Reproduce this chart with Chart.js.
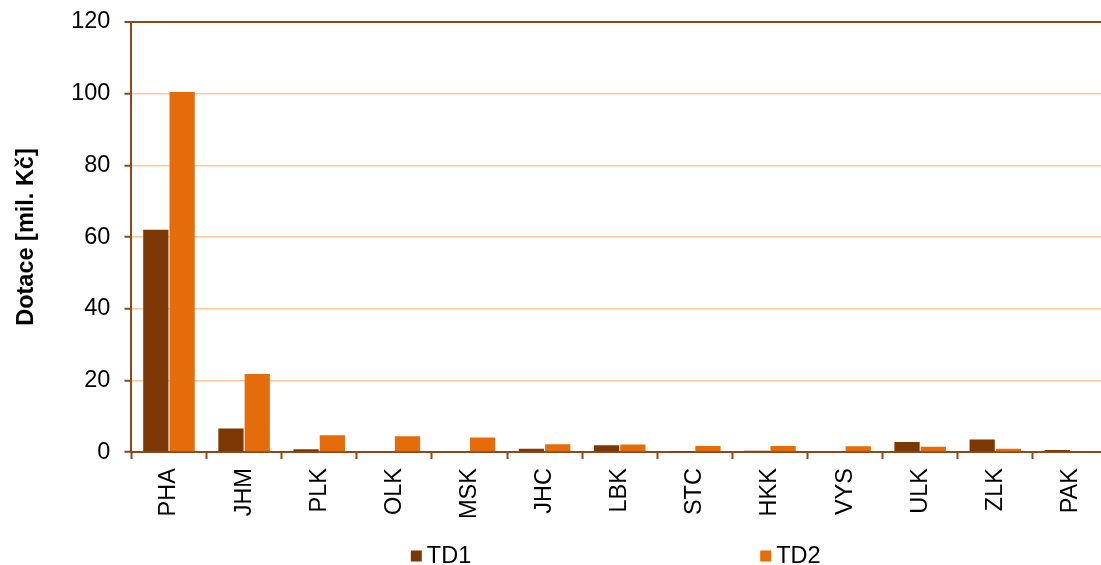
<!DOCTYPE html>
<html>
<head>
<meta charset="utf-8">
<script src="https://cdn.jsdelivr.net/npm/chart.js@4/dist/chart.umd.min.js"></script>
<style>
  html, body { margin: 0; padding: 0; background: #fff; overflow: hidden; }
  #wrap { width: 1110px; height: 565px; }
</style>
</head>
<body>
<div id="wrap"><canvas id="chart" width="1110" height="565"></canvas></div>
<script>
// Data
const regions = ["PHA", "JHM", "PLK", "OLK", "MSK", "JHC", "LBK", "STC", "HKK", "VYS", "ULK", "ZLK", "PAK"];
const td1 = [62.0, 6.6, 0.8, 0, 0, 0.9, 1.9, 0.1, 0.4, 0, 2.8, 3.5, 0.6];
const td2 = [100.5, 21.8, 4.7, 4.4, 4.1, 2.2, 2.1, 1.7, 1.7, 1.6, 1.5, 0.9, 0];
const yTitle = "Dotace [mil. Kč]";

const axisColor = "#8B4A1C";
const gridColor = "#FFC896";
const font = "'Liberation Sans', Arial, sans-serif";
const fontSize = 23.5;

// legend drawn under the plot, centred on the chart area
const bottomLegend = {
  id: "bottomLegend",
  afterDraw(chart) {
    const c = chart.ctx;
    const area = chart.chartArea;
    const sets = chart.data.datasets;
    c.save();
    c.font = fontSize + "px " + font;
    c.textBaseline = "middle";
    const box = 11, gap = 5, spacing = 289;
    const widths = sets.map(ds => box + gap + c.measureText(ds.label).width);
    const total = widths.reduce((a, b) => a + b, 0) + spacing * (sets.length - 1);
    let x = (area.left + area.right) / 2 - total / 2 - 4;
    const y = 556;
    sets.forEach((ds, i) => {
      c.fillStyle = ds.backgroundColor;
      c.fillRect(x, y - box / 2, box, box);
      c.fillStyle = "#000";
      c.fillText(ds.label, x + box + gap, y + 1);
      x += widths[i] + spacing;
    });
    c.restore();
  }
};

new Chart(document.getElementById("chart"), {
  type: "bar",
  data: {
    labels: regions,
    datasets: [
      { label: "TD1", data: td1, backgroundColor: "#7B3704", categoryPercentage: 0.7, barPercentage: 0.96 },
      { label: "TD2", data: td2, backgroundColor: "#E46C0A", categoryPercentage: 0.7, barPercentage: 0.96 }
    ]
  },
  options: {
    responsive: false,
    animation: false,
    layout: { padding: { top: 22, left: 12, right: 2, bottom: 37 } },
    plugins: {
      legend: { display: false },
      tooltip: { enabled: false }
    },
    scales: {
      x: {
        border: { color: axisColor, width: 2 },
        grid: { drawOnChartArea: false, tickLength: 7, tickColor: axisColor, tickWidth: 2 },
        ticks: {
          color: "#000",
          font: { family: font, size: fontSize },
          minRotation: 90,
          maxRotation: 90,
          autoSkip: false,
          padding: 9
        }
      },
      y: {
        min: 0,
        max: 120,
        border: { color: axisColor, width: 2 },
        grid: {
          color: ctx => ctx.tick && ctx.tick.value === 120 ? axisColor : gridColor,
          lineWidth: ctx => ctx.tick && ctx.tick.value === 120 ? 2 : 1.5,
          tickLength: 7,
          tickColor: axisColor,
          tickWidth: 2
        },
        ticks: {
          stepSize: 20,
          color: "#000",
          font: { family: font, size: fontSize, lineHeight: 0.6 },
          padding: 14
        },
        title: {
          display: true,
          text: yTitle,
          color: "#000",
          font: { family: font, size: fontSize, weight: "bold" },
          padding: { top: 0, bottom: 17 }
        }
      }
    }
  },
  plugins: [bottomLegend]
});
</script>
</body>
</html>
